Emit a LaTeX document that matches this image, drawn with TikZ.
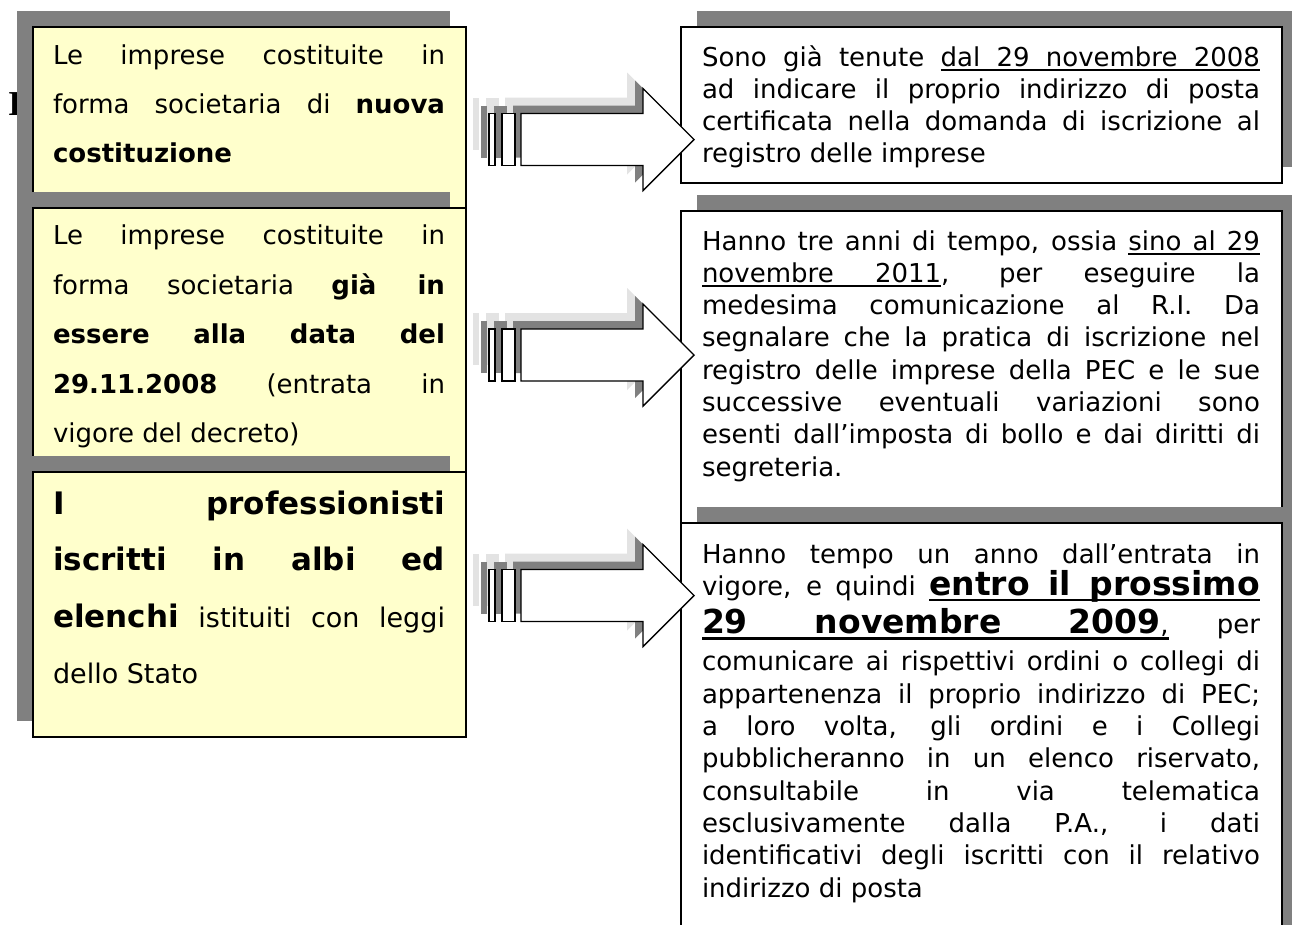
\documentclass[tikz,border=0pt]{standalone}
\usepackage{fontspec}
\setmainfont{DejaVu Sans}
\newfontfamily\serifI{Liberation Serif}
\definecolor{shadowgray}{HTML}{808080}
\definecolor{lightshadow}{HTML}{E3E3E3}
\definecolor{boxyellow}{HTML}{FFFFCC}
\newcommand\jl[1]{\hbox to\hsize{#1}\par}
\newcommand\nl[1]{\hbox{#1}\par}
\newcommand\tsetup[2]{\fontsize{#1}{#2}\selectfont\lineskiplimit=-100pt\lineskip=0pt\spaceskip=0pt\xspaceskip=0pt\parindent=0pt\relax}
\newdimen\ulA \ulA=3pt
\newdimen\ulB \ulB=4.6pt
\newcommand\ulw[1]{\setbox0\hbox{#1}\rlap{\vrule height -\ulA depth \ulB width\wd0}\box0}
\newcommand\ulsp{\leaders\hrule height -\ulA depth \ulB\hskip\fontdimen2\font plus\fontdimen3\font minus\fontdimen4\font}
\begin{document}
\begin{tikzpicture}[x=1pt,y=-1pt,
  lshadow/.style={fill=shadowgray,draw=none},
  lbox/.style={fill=boxyellow,draw=black,line width=1.5pt},
  rbox/.style={fill=white,draw=black,line width=1.5pt},
  afront/.style={fill=white,draw=black,line width=1.4pt,line join=miter},
  adark/.style={fill=shadowgray,draw=none},
  alight/.style={fill=lightshadow,draw=none},
  txt/.style={anchor=base west,inner sep=0pt,outer sep=0pt,text width=#1},
]
\clip (0,0) rectangle (1292,924);
\fill[white] (0,0) rectangle (1292,924);

% stray heading letter
\node[anchor=base west,inner sep=0pt] (stray) at (8,115) {\fontsize{35}{35}\selectfont\serifI\bfseries I};

% ---- left boxes ----
\fill[lshadow] (17,11) rectangle (450,192);
\draw[lbox] (33,27) rectangle (466,208);
\node[txt=392pt] (l1) at (53,64) {\tsetup{26}{49}%
\jl{Le imprese costituite in}
\jl{forma societaria di \textbf{nuova}}
\nl{\textbf{costituzione}}};

\fill[lshadow] (17,192) rectangle (450,456);
\draw[lbox] (33,208) rectangle (466,472);
\node[txt=392pt] (l2) at (53,244.5) {\tsetup{26}{49.5}%
\jl{Le imprese costituite in}
\jl{forma societaria \textbf{già in}}
\jl{\textbf{essere alla data del}}
\jl{\textbf{29.11.2008} (entrata in}
\nl{vigore del decreto)}};

\fill[lshadow] (17,456) rectangle (450,721);
\draw[lbox] (33,472) rectangle (466,737);
\node[txt=392pt] (l3) at (53,514) {\tsetup{27}{56.5}%
\jl{\fontsize{31}{56}\selectfont\textbf{I professionisti}}
\jl{\fontsize{31}{56}\selectfont\textbf{iscritti in albi ed}}
\jl{{\fontsize{31}{56}\selectfont\textbf{elenchi}} istituiti con leggi}
\nl{dello Stato}};

% ---- right boxes ----
\fill[lshadow] (697,11) rectangle (1298,167);
\draw[rbox] (681,27) rectangle (1282,183);
\node[txt=558pt] (r1) at (702,66) {\tsetup{26}{32.3}%
\jl{Sono già tenute \ulw{dal}\ulsp\ulw{29}\ulsp\ulw{novembre}\ulsp\ulw{2008}}
\jl{ad indicare il proprio indirizzo di posta}
\jl{certificata nella domanda di iscrizione al}
\nl{registro delle imprese}};

\fill[lshadow] (697,195) rectangle (1298,507);
\draw[rbox] (681,211) rectangle (1282,523);
\node[txt=558pt] (r2) at (702,250) {\tsetup{26}{32.3}%
\jl{Hanno tre anni di tempo, ossia \ulw{sino}\ulsp\ulw{al}\ulsp\ulw{29}}
\jl{\ulw{novembre}\ulsp\ulw{2011}, per eseguire la}
\jl{medesima comunicazione al R.I. Da}
\jl{segnalare che la pratica di iscrizione nel}
\jl{registro delle imprese della PEC e le sue}
\jl{successive eventuali variazioni sono}
\jl{esenti dall’imposta di bollo e dai diritti di}
\nl{segreteria.}};

\fill[lshadow] (697,507) rectangle (1298,940);
\draw[rbox] (681,523) rectangle (1282,950);
\node[txt=558pt] (r3) at (702,563) {\tsetup{26}{32.3}%
\jl{Hanno tempo un anno dall’entrata in}
\jl{vigore, e quindi {\fontsize{33}{32.3}\selectfont\bfseries\ulA=3.5pt\ulB=6pt\ulw{entro}\ulsp\ulw{il}\ulsp\ulw{prossimo}}}
\vskip6pt
\jl{{\fontsize{33}{32.3}\selectfont\bfseries\ulA=3.5pt\ulB=6pt\ulw{29}\ulsp\ulw{novembre}\ulsp\ulw{2009\mdseries\fontsize{26}{32.3}\selectfont,}} per}
\vskip5pt
\jl{comunicare ai rispettivi ordini o collegi di}
\jl{appartenenza il proprio indirizzo di PEC;}
\jl{a loro volta, gli ordini e i Collegi}
\jl{pubblicheranno in un elenco riservato,}
\jl{consultabile in via telematica}
\jl{esclusivamente dalla P.A., i dati}
\jl{identificativi degli iscritti con il relativo}
\nl{indirizzo di posta}};

% ---- block arrows ----
\newcommand\blockarrow[2]{%
  \coordinate (#1) at (0,#2);
  \begin{scope}[shift={(-16,-16)}]
    \fill[alight] (489,#2-26) rectangle (495,#2+26);
    \fill[alight] (502,#2-26) rectangle (515,#2+26);
    \fill[alight] (521,#2-26) -- (643,#2-26) -- (643,#2-51) -- (694,#2) -- (643,#2+51) -- (643,#2+26) -- (521,#2+26) -- cycle;
  \end{scope}
  \begin{scope}[shift={(-8,-8)}]
    \fill[adark] (489,#2-26) rectangle (495,#2+26);
    \fill[adark] (502,#2-26) rectangle (515,#2+26);
    \fill[adark] (521,#2-26) -- (643,#2-26) -- (643,#2-51) -- (694,#2) -- (643,#2+51) -- (643,#2+26) -- (521,#2+26) -- cycle;
  \end{scope}
  \draw[afront] (489,#2-26) rectangle (495,#2+26);
  \draw[afront] (502,#2-26) rectangle (515,#2+26);
  \draw[afront] (521,#2-26) -- (643,#2-26) -- (643,#2-51) -- (694,#2) -- (643,#2+51) -- (643,#2+26) -- (521,#2+26) -- cycle;
}
\blockarrow{a1}{139.5}
\blockarrow{a2}{355}
\blockarrow{a3}{595.5}
\end{tikzpicture}
\end{document}
